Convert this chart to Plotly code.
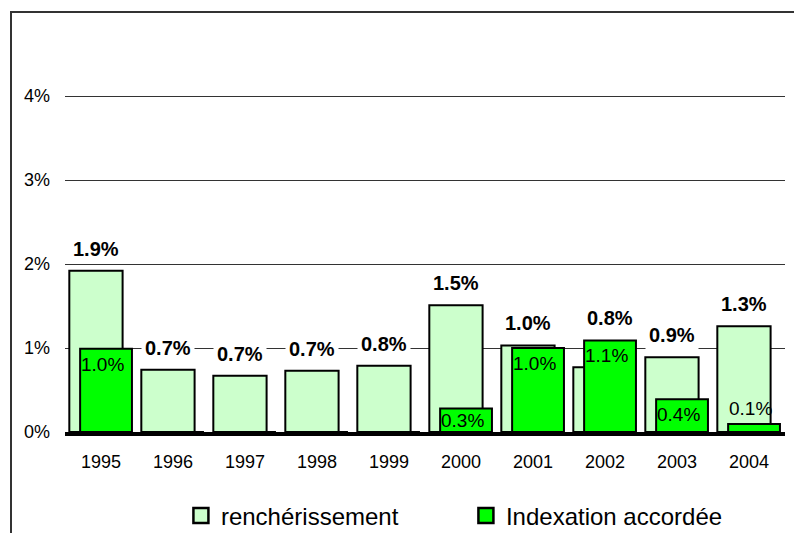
import plotly.graph_objects as go

years = ["1995", "1996", "1997", "1998", "1999", "2000", "2001", "2002", "2003", "2004"]
rencherissement = [1.92, 0.74, 0.67, 0.73, 0.79, 1.51, 1.03, 0.77, 0.89, 1.26]
rench_labels = ["1.9%", "0.7%", "0.7%", "0.7%", "0.8%", "1.5%", "1.0%", "0.8%", "0.9%", "1.3%"]
indexation = [0.99, 0, 0, 0, 0, 0.28, 1.0, 1.09, 0.39, 0.095]
index_labels = ["1.0%", None, None, None, None, "0.3%", "1.0%", "1.1%", "0.4%", "0.1%"]
y_ticks = [0, 1, 2, 3, 4]
y_ticktext = ["0%", "1%", "2%", "3%", "4%"]

FONT = "Arial, Liberation Sans, sans-serif"
LIGHT = "#CCFFCC"
GREEN = "#00FF00"

x = list(range(len(years)))
W_L, OFF_L = 0.74, -0.44
W_G, OFF_G = 0.72, -0.29

fig = go.Figure()
fig.add_trace(go.Bar(x=x, y=rencherissement, width=W_L, offset=OFF_L,
                     marker=dict(color=LIGHT, line=dict(color="black", width=2)),
                     showlegend=False, hoverinfo="skip"))
fig.add_trace(go.Bar(x=x, y=indexation, width=W_G, offset=OFF_G,
                     marker=dict(color=GREEN, line=dict(color="black", width=2)),
                     showlegend=False, hoverinfo="skip"))
# legend entries
fig.add_trace(go.Scatter(x=[None], y=[None], mode="markers", name="renchérissement",
                         marker=dict(symbol="square", size=15, color=LIGHT,
                                     line=dict(color="black", width=2.5))))
fig.add_trace(go.Scatter(x=[None], y=[None], mode="markers", name="Indexation accordée",
                         marker=dict(symbol="square", size=15, color=GREEN,
                                     line=dict(color="black", width=2.5))))

annotations = []
for i in x:
    r, g = rencherissement[i], indexation[i]
    if r >= g:
        cx = i + OFF_L + W_L / 2
    else:
        cx = i + OFF_G + W_G / 2
    annotations.append(dict(x=cx, y=max(r, g), xref="x", yref="y", text="<b>%s</b>" % rench_labels[i],
                            showarrow=False, yanchor="bottom", yshift=7,
                            bgcolor="white", borderpad=3,
                            font=dict(family=FONT, size=20, color="black")))
    if index_labels[i]:
        if g >= 0.35:
            ya, ys = "top", -3
        elif g >= 0.2:
            ya, ys = "top", 0
        else:
            ya, ys = "bottom", 3
        annotations.append(dict(x=i + 0.02, y=g, xref="x", yref="y", text=index_labels[i],
                                showarrow=False, yanchor=ya, yshift=ys,
                                font=dict(family=FONT, size=19, color="black")))

fig.update_layout(
    width=794, height=533,
    margin=dict(l=65, r=9, t=12, b=101, autoexpand=False),
    paper_bgcolor="white", plot_bgcolor="white",
    barmode="overlay",
    font=dict(family=FONT, color="black"),
    xaxis=dict(range=[-0.5, len(years) - 0.5], tickvals=x, ticktext=years, automargin=False,
               showgrid=False, zeroline=False, showline=True, linecolor="black", linewidth=4,
               ticks="", ticklabelstandoff=10, tickfont=dict(size=18, family=FONT)),
    yaxis=dict(range=[0, 5], tickvals=y_ticks, ticktext=y_ticktext, automargin=False,
               showgrid=True, gridcolor="#333333", gridwidth=1, zeroline=False,
               showline=False, ticks="", ticklabelstandoff=14,
               tickfont=dict(size=18, family=FONT)),
    legend=dict(orientation="h", x=0.161, xanchor="left", y=-0.2, yanchor="middle",
                font=dict(size=24, family=FONT), entrywidth=240, itemsizing="trace",
                bgcolor="rgba(0,0,0,0)"),
    annotations=annotations,
    shapes=[dict(type="path", xref="paper", yref="paper",
                 path="M -0.075,-0.5 L -0.075,1 L 1.2,1",
                 line=dict(color="#333333", width=2))],
)

fig.write_html("out.html", config={"displayModeBar": False},
               post_script="document.body.style.margin='0';document.body.style.overflow='hidden';")
